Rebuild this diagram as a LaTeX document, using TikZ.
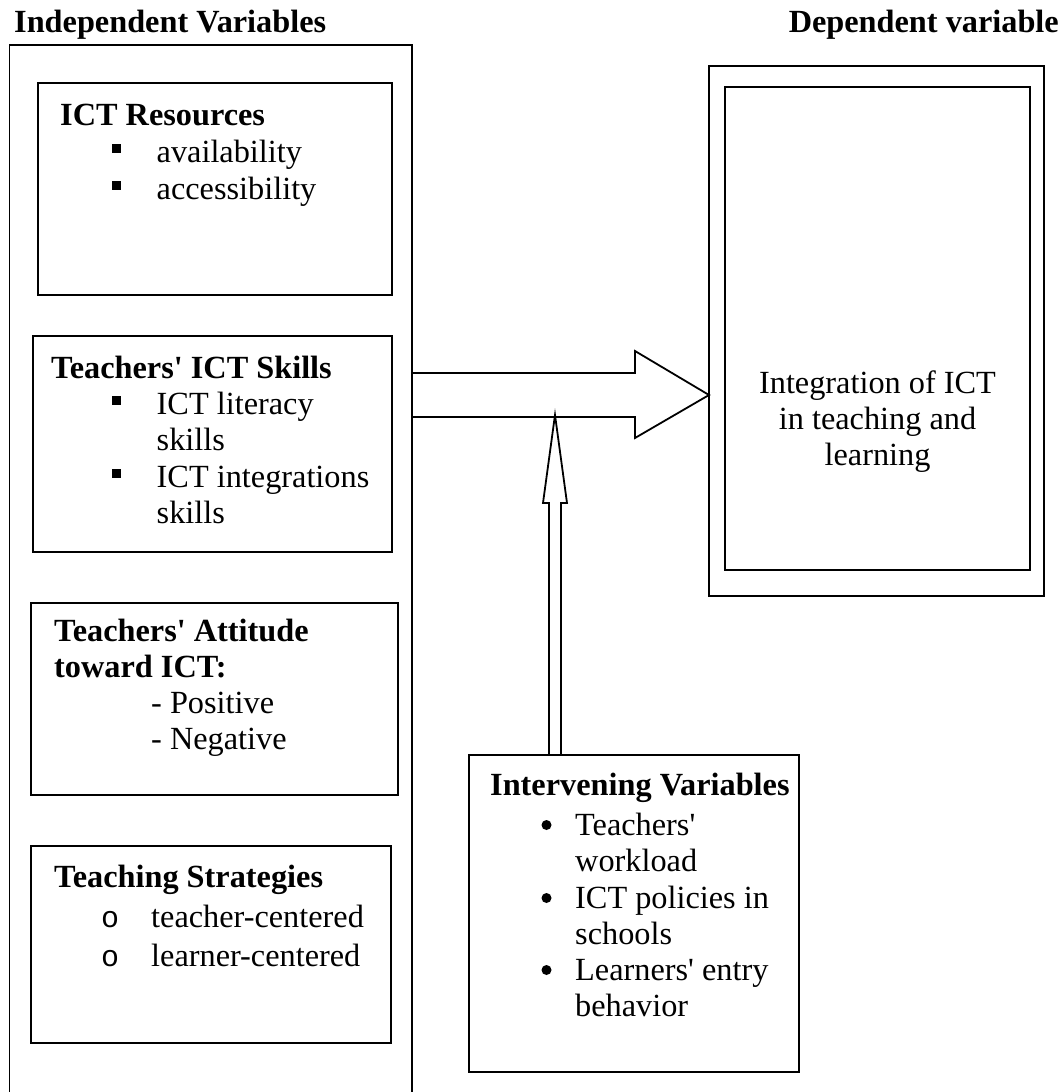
\documentclass[tikz,border=0pt]{standalone}
\usepackage{fontspec}
\setmainfont{Liberation Serif}
\newfontfamily\monof{Liberation Mono}
\newcommand\aps{\textquotesingle}
\begin{document}
\begin{tikzpicture}[x=1pt,y=-1pt,
  box/.style={draw, line width=1.8pt, inner sep=0pt, outer sep=0pt, anchor=north west},
  txt/.style={anchor=base west, inner sep=0pt, font=\fontsize{32.3}{37}\selectfont},
  btxt/.style={anchor=base west, inner sep=0pt, font=\fontsize{32.3}{37}\selectfont\bfseries},
  ctxt/.style={anchor=base, inner sep=0pt, font=\fontsize{32.3}{37}\selectfont},
  otxt/.style={anchor=base west, inner sep=0pt, font=\fontsize{30}{37}\selectfont\monof},
  blk/.style={draw, line width=1.8pt, line join=miter}
]
\useasboundingbox (0,0) rectangle (1060,1092);

% titles
\node[btxt] (tind) at (14,32) {Independent Variables};
\node[btxt, anchor=base east] (tdep) at (1059,32) {Dependent variable};

% boxes
\node[box, minimum width=402.5pt, minimum height=1060pt] (indep) at (9.5,45) {};
\node[box, minimum width=354pt, minimum height=212pt] (res) at (38,83) {};
\node[box, minimum width=359pt, minimum height=216pt] (skills) at (33,336) {};
\node[box, minimum width=367pt, minimum height=192pt] (att) at (31,603) {};
\node[box, minimum width=360pt, minimum height=197pt] (strat) at (31,846) {};
\node[box, minimum width=335pt, minimum height=530pt] (depout) at (709,66) {};
\node[box, minimum width=305pt, minimum height=483pt] (depin) at (725,87) {};
\node[box, minimum width=330pt, minimum height=317pt] (interv) at (469,755) {};

% ICT Resources
\node[btxt] (r0) at (60,125) {ICT Resources};
\fill (111.5,143.5) rectangle (120.5,152.5);
\node[txt] (r1) at (156.5,162) {availability};
\fill (111.5,180.5) rectangle (120.5,189.5);
\node[txt] (r2) at (156.5,199) {accessibility};

% Teachers' ICT Skills
\node[btxt] (s0) at (51,378) {Teachers\aps{} ICT Skills};
\fill (111.5,395.5) rectangle (120.5,404.5);
\node[txt] (s1) at (156.5,414) {ICT literacy};
\node[txt] (s2) at (156.5,450) {skills};
\fill (111.5,468.5) rectangle (120.5,477.5);
\node[txt] (s3) at (156.5,487) {ICT integrations};
\node[txt] (s4) at (156.5,523) {skills};

% Attitude
\node[btxt] (a0) at (54,641) {Teachers\aps{} Attitude};
\node[btxt] (a1) at (54,677) {toward ICT:};
\node[txt] (a2) at (151,713) {- Positive};
\node[txt] (a3) at (151,749) {- Negative};

% Strategies
\node[btxt] (g0) at (54,887) {Teaching Strategies};
\node[otxt] (g1b) at (101,927) {o};
\node[txt] (g1) at (151,927) {teacher-centered};
\node[otxt] (g2b) at (101,966) {o};
\node[txt] (g2) at (151,966) {learner-centered};

% Dependent
\node[ctxt] (d1) at (877.5,393) {Integration of ICT};
\node[ctxt] (d2) at (877.5,429) {in teaching and};
\node[ctxt] (d3) at (877.5,465) {learning};

% Intervening
\node[btxt] (i0) at (490,795) {Intervening Variables};
\fill (546.5,825) circle (5);
\node[txt] (i1) at (575,835) {Teachers\aps};
\node[txt] (i2) at (575,871) {workload};
\fill (546.5,898) circle (5);
\node[txt] (i3) at (575,908) {ICT policies in};
\node[txt] (i4) at (575,944) {schools};
\fill (546.5,970) circle (5);
\node[txt] (i5) at (575,980) {Learners\aps{} entry};
\node[txt] (i6) at (575,1016) {behavior};

% big arrow
\draw[blk] (indep.east |- 0,373) -- (635,373) -- (635,351) -- (depout.west |- 0,395)
  -- (635,438) -- (635,417) -- (indep.east |- 0,417);

% vertical arrow
\draw[blk] (interv.north -| 549,0) -- (549,503) -- (543,503) -- (555,415)
  -- (567,503) -- (561,503) -- (interv.north -| 561,0);
\end{tikzpicture}
\end{document}
